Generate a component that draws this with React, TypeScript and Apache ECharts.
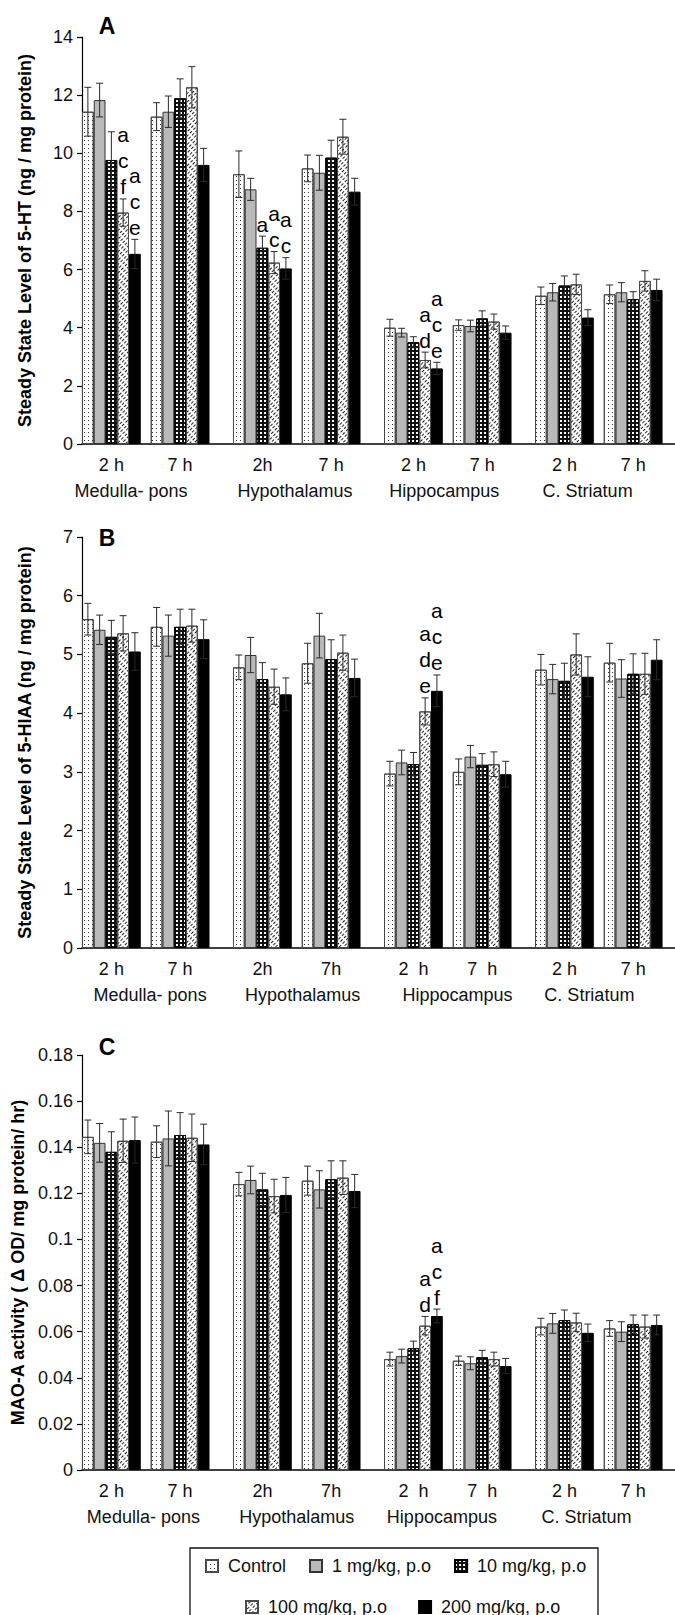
import React, { useEffect, useRef } from 'react';
import * as echarts from 'echarts';

// ---------------- DATA ----------------
const TREATMENTS = ['Control', '1 mg/kg, p.o', '10 mg/kg, p.o', '100 mg/kg, p.o', '200 mg/kg, p.o'];
const REGIONS = ['Medulla- pons', 'Hypothalamus', 'Hippocampus', 'C. Striatum'];

const A_TIME_LABELS = ['2 h', '7 h', '2h', '7 h', '2 h', '7 h', '2 h', '7 h'];
const B_TIME_LABELS = ['2 h', '7 h', '2h', '7h', '2  h', '7  h', '2 h', '7 h'];
const C_TIME_LABELS = ['2 h', '7 h', '2h', '7h', '2  h', '7  h', '2 h', '7 h'];

// Panel A: 5-HT (rows = treatments, columns = region/time groups)
const A_MEAN = [
  [11.43, 11.26, 9.28, 9.48, 4.0, 4.09, 5.1, 5.15],
  [11.83, 11.43, 8.76, 9.33, 3.83, 4.06, 5.22, 5.22],
  [9.77, 11.89, 6.75, 9.85, 3.5, 4.32, 5.45, 4.98],
  [7.96, 12.27, 6.24, 10.57, 2.89, 4.21, 5.49, 5.61],
  [6.54, 9.6, 6.04, 8.68, 2.6, 3.83, 4.35, 5.3],
];
const A_SD = [
  [0.84, 0.48, 0.8, 0.46, 0.29, 0.18, 0.3, 0.32],
  [0.58, 0.54, 0.38, 0.6, 0.15, 0.2, 0.3, 0.33],
  [0.97, 0.67, 0.4, 0.6, 0.19, 0.26, 0.33, 0.26],
  [0.47, 0.71, 0.38, 0.6, 0.27, 0.26, 0.35, 0.35],
  [0.5, 0.57, 0.37, 0.46, 0.21, 0.23, 0.27, 0.37],
];
// Panel B: 5-HIAA
const B_MEAN = [
  [5.6, 5.47, 4.78, 4.85, 2.97, 3.0, 4.74, 4.86],
  [5.42, 5.32, 4.99, 5.32, 3.16, 3.26, 4.58, 4.59],
  [5.3, 5.47, 4.58, 4.92, 3.13, 3.12, 4.55, 4.67],
  [5.36, 5.49, 4.45, 5.03, 4.03, 3.13, 5.0, 4.67],
  [5.05, 5.26, 4.32, 4.6, 4.38, 2.96, 4.62, 4.91],
];
const B_SD = [
  [0.27, 0.33, 0.21, 0.34, 0.21, 0.22, 0.26, 0.33],
  [0.25, 0.35, 0.3, 0.38, 0.21, 0.19, 0.25, 0.32],
  [0.28, 0.3, 0.28, 0.33, 0.2, 0.19, 0.3, 0.34],
  [0.3, 0.28, 0.3, 0.3, 0.23, 0.21, 0.35, 0.35],
  [0.32, 0.33, 0.28, 0.32, 0.27, 0.22, 0.34, 0.34],
];
// Panel C: MAO-A activity
const C_MEAN = [
  [0.1445, 0.1424, 0.124, 0.1255, 0.0481, 0.0474, 0.0622, 0.0614],
  [0.1419, 0.1438, 0.1258, 0.1217, 0.0494, 0.0463, 0.0636, 0.06],
  [0.138, 0.1453, 0.1217, 0.1261, 0.0528, 0.0489, 0.065, 0.0632],
  [0.1428, 0.1441, 0.1188, 0.1268, 0.0626, 0.0481, 0.064, 0.0622],
  [0.1431, 0.1412, 0.1193, 0.121, 0.0668, 0.0451, 0.0595, 0.0629],
];
const C_SD = [
  [0.0073, 0.0069, 0.0051, 0.0063, 0.003, 0.002, 0.0036, 0.0034],
  [0.0084, 0.0119, 0.006, 0.0081, 0.003, 0.0028, 0.0043, 0.0043],
  [0.0087, 0.0097, 0.007, 0.008, 0.0031, 0.003, 0.0044, 0.004],
  [0.0094, 0.0103, 0.0073, 0.0073, 0.004, 0.003, 0.004, 0.005],
  [0.01, 0.0088, 0.0076, 0.0072, 0.003, 0.0033, 0.0038, 0.0043],
];

// significance letters: [group index, treatment index, letters top-to-bottom]
const A_SIG: [number, number, string][] = [
  [0, 3, 'acf'], [0, 4, 'ace'], [2, 2, 'a'], [2, 3, 'ac'], [2, 4, 'ac'], [4, 3, 'ad'], [4, 4, 'ace'],
];
const B_SIG: [number, number, string][] = [[4, 3, 'ade'], [4, 4, 'ace']];
const C_SIG: [number, number, string][] = [[4, 3, 'ad'], [4, 4, 'acf']];

// ---------------- LAYOUT / STYLE ----------------
const FONT = '"Liberation Sans", Arial, Helvetica, sans-serif';
const GAP_IN = 0.85; // gap between 2 h and 7 h groups, in bar widths
const GAP_OUT = 2.0; // gap between regions, in bar widths
const GRID_LEFT = 82;
const GRID_W = 608;
const UNITS = 50.46;
const N_GROUPS = 8;

const groupStart = (g: number) => {
  const r = Math.floor(g / 2);
  const t = g % 2;
  return r * (10 + GAP_IN + GAP_OUT) + t * (5 + GAP_IN);
};
const barCenter = (g: number, s: number) => groupStart(g) + s + 0.5;
const groupCenter = (g: number) => groupStart(g) + 2.5;
const regionCenter = (r: number) => r * (10 + GAP_IN + GAP_OUT) + (10 + GAP_IN) / 2;
const nearestIdx = (arr: number[], v: number) => {
  let best = 0;
  arr.forEach((a, i) => {
    if (Math.abs(a - v) < Math.abs(arr[best] - v)) best = i;
  });
  return best;
};

const BAR_STYLES: any[] = [
  {
    color: '#ffffff', borderColor: '#4a4a4a', borderWidth: 1,
    decal: { symbol: 'rect', symbolSize: 1, color: '#333333', dashArrayX: [1, 3], dashArrayY: [1, 3] },
  },
  { color: '#b9b9b9', borderColor: '#333333', borderWidth: 1 },
  {
    color: '#111111', borderColor: '#000000', borderWidth: 1,
    decal: { symbol: 'rect', symbolSize: 1, color: '#ffffff', dashArrayX: [2, 2], dashArrayY: [2, 2] },
  },
  {
    color: '#ffffff', borderColor: '#4a4a4a', borderWidth: 1,
    decal: {
      symbol: 'rect', symbolSize: 1, symbolKeepAspect: false, color: '#222222',
      dashArrayX: [3, 2], dashArrayY: [1, 2], rotation: -Math.PI / 4,
    },
  },
  { color: '#000000', borderColor: '#000000', borderWidth: 1 },
];

const PANELS = [
  {
    letter: 'A', letterY: 26, top: 37, height: 407, max: 14, interval: 2,
    mean: A_MEAN, sd: A_SD, sig: A_SIG, times: A_TIME_LABELS,
    yName: 'Steady State Level of 5-HT (ng / mg protein)',
    regionShift: [-1.25, -0.15, -0.3, -0.95],
  },
  {
    letter: 'B', letterY: 538, top: 537, height: 411, max: 7, interval: 1,
    mean: B_MEAN, sd: B_SD, sig: B_SIG, times: B_TIME_LABELS,
    yName: 'Steady State Level of 5-HIAA (ng / mg protein)',
    regionShift: [0.37, 0.5, 0.83, -0.8],
  },
  {
    letter: 'C', letterY: 1047, top: 1055, height: 415, max: 0.18, interval: 0.02,
    mean: C_MEAN, sd: C_SD, sig: C_SIG, times: C_TIME_LABELS,
    yName: 'MAO-A activity ( \u0394 OD/ mg protein/ hr)',
    regionShift: [-0.2, 0, -0.5, -1.05],
  },
];

function buildOption() {
  const grids: any[] = [];
  const xAxes: any[] = [];
  const yAxes: any[] = [];
  const series: any[] = [];
  const graphics: any[] = [];
  const groupCenters = Array.from({ length: N_GROUPS }, (_, g) => groupCenter(g));

  PANELS.forEach((P, pi) => {
    grids.push({ left: GRID_LEFT, top: P.top, width: GRID_W, height: P.height });
    const regionPos = REGIONS.map((_, r) => regionCenter(r) + P.regionShift[r]);

    const xBar = xAxes.length;
    xAxes.push({
      type: 'value', gridIndex: pi, min: 0, max: UNITS, position: 'bottom',
      axisLine: { show: true, onZero: false, lineStyle: { color: '#000', width: 1.5 } },
      axisTick: { show: false },
      splitLine: { show: false },
      axisLabel: {
        customValues: groupCenters,
        formatter: (v: number) => P.times[nearestIdx(groupCenters, v)],
        fontSize: 18, color: '#111', margin: 12, fontFamily: FONT,
      },
    });
    xAxes.push({
      type: 'value', gridIndex: pi, min: 0, max: UNITS, position: 'bottom',
      axisLine: { show: false, onZero: false },
      axisTick: { show: false },
      splitLine: { show: false },
      axisLabel: {
        customValues: regionPos,
        formatter: (v: number) => REGIONS[nearestIdx(regionPos, v)],
        fontSize: 18, color: '#111', margin: 38, fontFamily: FONT,
      },
    });
    yAxes.push({
      type: 'value', gridIndex: pi, min: 0, max: P.max, interval: P.interval,
      name: P.yName, nameLocation: 'middle', nameGap: 48, nameRotate: 90,
      nameTextStyle: { fontSize: 18, fontWeight: 'bold', color: '#000', fontFamily: FONT },
      axisLine: { show: true, lineStyle: { color: '#000', width: 1.2 } },
      axisTick: { show: true, length: 5, lineStyle: { color: '#000', width: 1.2 } },
      splitLine: { show: false },
      axisLabel: { fontSize: 18, color: '#111', margin: 9, fontFamily: FONT },
    });

    TREATMENTS.forEach((name, s) => {
      series.push({
        type: 'bar', name, xAxisIndex: xBar, yAxisIndex: pi,
        barWidth: '100%', barGap: '-100%',
        data: P.mean[s].map((v, g) => [barCenter(g, s), v]),
        itemStyle: BAR_STYLES[s],
        emphasis: { disabled: true }, silent: true, z: 2,
      });
    });

    const errData: number[][] = [];
    TREATMENTS.forEach((_, s) => {
      P.mean[s].forEach((v, g) => errData.push([barCenter(g, s), v, P.sd[s][g]]));
    });
    series.push({
      type: 'custom', xAxisIndex: xBar, yAxisIndex: pi, silent: true, z: 5,
      encode: { x: 0, y: 1 },
      data: errData,
      renderItem: (params: any, api: any) => {
        const x = api.value(0), m = api.value(1), sd = api.value(2);
        const p1 = api.coord([x, m + sd]);
        const p2 = api.coord([x, m - sd]);
        const cw = 3.5;
        const st = { stroke: '#2a2a2a', lineWidth: 1 };
        return {
          type: 'group',
          children: [
            { type: 'line', shape: { x1: p1[0], y1: p1[1], x2: p2[0], y2: p2[1] }, style: st },
            { type: 'line', shape: { x1: p1[0] - cw, y1: p1[1], x2: p1[0] + cw, y2: p1[1] }, style: st },
            { type: 'line', shape: { x1: p2[0] - cw, y1: p2[1], x2: p2[0] + cw, y2: p2[1] }, style: st },
          ],
        };
      },
    });

    series.push({
      type: 'custom', xAxisIndex: xBar, yAxisIndex: pi, silent: true, z: 6,
      encode: { x: 0, y: 1 },
      data: P.sig.map(([g, s]) => [barCenter(g, s), P.mean[s][g] + P.sd[s][g]]),
      renderItem: (params: any, api: any) => {
        const p = api.coord([api.value(0), api.value(1)]);
        const letters = P.sig[params.dataIndex][2].split('');
        const n = letters.length;
        return {
          type: 'group',
          children: letters.map((ch, i) => ({
            type: 'text',
            x: p[0],
            y: p[1] - 12 - (n - 1 - i) * 26,
            style: {
              text: ch, fill: '#000', fontSize: 21, fontFamily: FONT,
              textAlign: 'center', textVerticalAlign: 'middle',
              align: 'center', verticalAlign: 'middle',
            },
          })),
        };
      },
    });

    graphics.push({
      type: 'text', x: 107, y: P.letterY, silent: true,
      style: {
        text: P.letter, fill: '#000', fontSize: 23, fontWeight: 'bold', fontFamily: FONT,
        textAlign: 'center', textVerticalAlign: 'middle', align: 'center', verticalAlign: 'middle',
      },
    });
  });

  graphics.push({
    type: 'rect', silent: true,
    shape: { x: 190, y: 1548, width: 408, height: 120 },
    style: { fill: 'none', stroke: '#111', lineWidth: 1.3 },
  });

  const legendBase = {
    orient: 'horizontal', itemWidth: 12, itemHeight: 12, icon: 'rect',
    selectedMode: false, padding: 0,
    textStyle: { fontSize: 18, color: '#111', fontFamily: FONT, padding: [0, 0, 0, 5] },
  };

  return {
    animation: false,
    backgroundColor: '#ffffff',
    textStyle: { fontFamily: FONT },
    grid: grids,
    xAxis: xAxes,
    yAxis: yAxes,
    series,
    graphic: graphics,
    legend: [
      { ...legendBase, data: TREATMENTS.slice(0, 3), left: 205, top: 1557, itemGap: 23 },
      { ...legendBase, data: TREATMENTS.slice(3), left: 245, top: 1598, itemGap: 31 },
    ],
  };
}

export default function App() {
  const ref = useRef<HTMLDivElement>(null);
  useEffect(() => {
    if (!ref.current) return;
    const chart = echarts.init(ref.current, undefined, { renderer: 'svg' });
    chart.setOption(buildOption() as any);
    return () => chart.dispose();
  }, []);
  return (
    <div
      ref={ref}
      style={{ position: 'absolute', left: 0, top: 0, width: 675, height: 1615, background: '#fff' }}
    />
  );
}
